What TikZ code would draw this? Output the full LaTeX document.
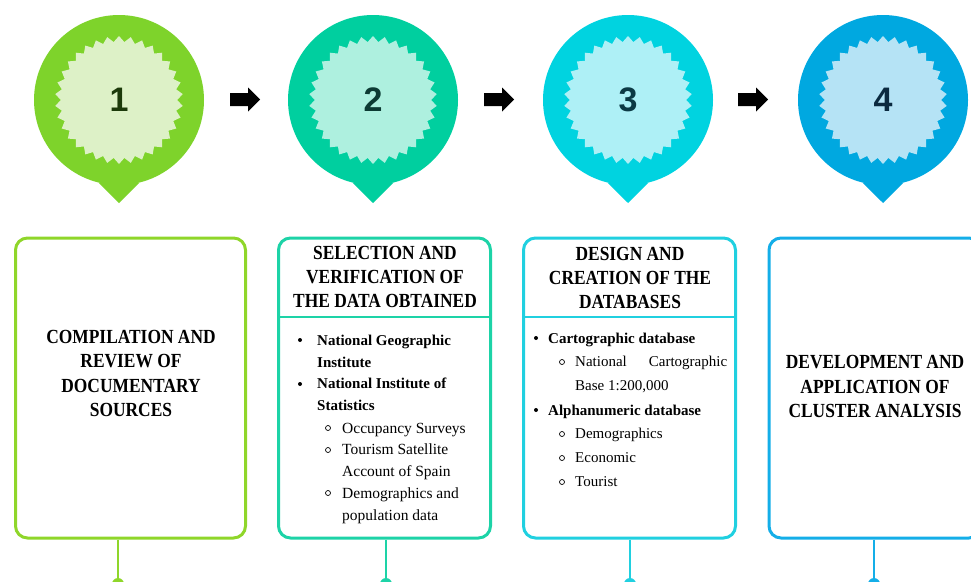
\documentclass[tikz,border=0pt]{standalone}
\usepackage{fontspec}
\setmainfont{Liberation Serif}
\newfontfamily\headfont[FakeStretch=0.87]{Liberation Serif}
\newfontfamily\numfont{Liberation Sans}
\usetikzlibrary{shapes.geometric}
\definecolor{gA}{HTML}{7ED32B}\definecolor{gAl}{HTML}{DDF1C7}\definecolor{gAb}{HTML}{8FD62A}\definecolor{gAt}{HTML}{1C3A0A}
\definecolor{gB}{HTML}{00CF9F}\definecolor{gBl}{HTML}{AEF0DF}\definecolor{gBb}{HTML}{1DD3A7}\definecolor{gBt}{HTML}{0C3B33}
\definecolor{gC}{HTML}{00D3E0}\definecolor{gCl}{HTML}{AEF0F6}\definecolor{gCb}{HTML}{20D0E0}\definecolor{gCt}{HTML}{0C3A45}
\definecolor{gD}{HTML}{00A8E0}\definecolor{gDl}{HTML}{B5E3F5}\definecolor{gDb}{HTML}{14AEE8}\definecolor{gDt}{HTML}{0B2A40}
\tikzset{
  bubble/.style={circle, fill=#1, minimum size=170pt, inner sep=0pt},
  burst/.style={star, star points=34, star point ratio=1.1, fill=#1, minimum size=128pt, inner sep=0pt},
  numtxt/.style={text=#1, font=\numfont\bfseries\fontsize{34}{34}\selectfont, inner sep=0pt},
  stepbox/.style={draw=#1, line width=3pt, rounded corners=12pt, inner sep=0pt, minimum height=300pt},
  headtxt/.style={align=center, inner sep=0pt, font=\headfont\bfseries\fontsize{20}{24.2}\selectfont},
  boldtxt/.style={anchor=base west, align=left, inner sep=0pt, font=\bfseries\fontsize{15}{#1}\selectfont},
  regtxt/.style={anchor=base west, align=left, inner sep=0pt, font=\fontsize{15.5}{#1}\selectfont},
  dotb/.style={circle, fill=black, minimum size=4pt, inner sep=0pt},
  dotw/.style={circle, draw=black, line width=0.7pt, minimum size=5pt, inner sep=0pt},
  link/.style={draw=#1, line width=2pt},
  enddot/.style={circle, fill=#1, minimum size=12pt, inner sep=0pt},
  blockarrow/.style={fill=black}
}
\begin{document}
\begin{tikzpicture}[x=1pt,y=-1pt]
\useasboundingbox (0,0) rectangle (971,581);
\clip (0,0) rectangle (971,581);
% bubbles
\foreach \cx/\c/\n in {119/A/1, 373/B/2, 628/C/3, 883/D/4}{
  \fill[g\c] (\cx-20.6,182.5) -- (\cx,203) -- (\cx+20.6,182.5) -- cycle;
  \node[bubble=g\c] (c\n) at (\cx,100) {};
  \node[burst=g\c l] (s\n) at (\cx,100) {};
  \node[numtxt=g\c t] (n\n) at (\cx,100) {\n};
}
% arrows between bubbles
\foreach \ax in {230,484,738}{
  \fill[blockarrow] (\ax,93) -- (\ax+18,93) -- (\ax+18,87.5) -- (\ax+30,99.5) -- (\ax+18,111.5) -- (\ax+18,106) -- (\ax,106) -- cycle;
}
% boxes
\node[stepbox=gAb, minimum width=230pt] (b1) at (130.5,388) {};
\node[stepbox=gBb, minimum width=212pt] (b2) at (384.5,388) {};
\node[stepbox=gCb, minimum width=212pt] (b3) at (629.5,388) {};
\node[stepbox=gDb, minimum width=212pt] (b4) at (875,388) {};
% header dividers
\draw[gBb, line width=2.5pt] (b2.west |- 0,317) -- (b2.east |- 0,317);
\draw[gCb, line width=2.5pt] (b3.west |- 0,317) -- (b3.east |- 0,317);
% box texts
\node[headtxt] (t1) at (131,373.5) {COMPILATION AND\\REVIEW OF\\DOCUMENTARY\\SOURCES};
\node[headtxt] (t4) at (875,386.5) {DEVELOPMENT AND\\APPLICATION OF\\CLUSTER ANALYSIS};
\node[headtxt] (h2) at (385,277) {SELECTION AND\\VERIFICATION OF\\THE DATA OBTAINED};
\node[headtxt] (h3) at (630,278) {DESIGN AND\\CREATION OF THE\\DATABASES};
% box 2 list
\node[dotb] (d21) at (300,340) {};
\node[boldtxt=21.9] (i21) at (317,367) {National Geographic\\Institute};
\node[dotb] (d22) at (300,384) {};
\node[boldtxt=21.9] (i22) at (317,410.5) {National Institute of\\Statistics};
\node[dotw] (d23) at (328,428) {};
\node[regtxt=21.9] (i23) at (342,433) {Occupancy Surveys};
\node[dotw] (d24) at (328,450) {};
\node[regtxt=21.9] (i24) at (342,476.5) {Tourism Satellite\\Account of Spain};
\node[dotw] (d25) at (328,493) {};
\node[regtxt=21.9] (i25) at (342,520) {Demographics and\\population data};
% box 3 list
\node[dotb] (d31) at (536,338) {};
\node[boldtxt=23.8] (i31) at (548,343) {Cartographic database};
\node[dotw] (d32) at (562,362) {};
\node[regtxt=23.8, font=\fontsize{15}{23.8}\selectfont] (i32) at (575,390.5) {National\hspace{22pt}Cartographic\\Base 1:200,000};
\node[dotb] (d33) at (536,410) {};
\node[boldtxt=23.8] (i33) at (548,415) {Alphanumeric database};
\node[dotw] (d34) at (562,434) {};
\node[regtxt=23.8, font=\fontsize{15}{23.8}\selectfont] (i34) at (575,486) {Demographics\\Economic\\Tourist};
\node[dotw] (d35) at (562,458) {};
\node[dotw] (d36) at (562,482) {};
% bottom connectors
\node[enddot=gAb] (e1) at (118,584) {};
\node[enddot=gBb] (e2) at (386,584) {};
\node[enddot=gCb] (e3) at (630,584) {};
\node[enddot=gDb] (e4) at (874,584) {};
\draw[link=gAb] (b1.south -| e1) -- (e1);
\draw[link=gBb] (b2.south -| e2) -- (e2);
\draw[link=gCb] (b3.south -| e3) -- (e3);
\draw[link=gDb] (b4.south -| e4) -- (e4);
\end{tikzpicture}
\end{document}
